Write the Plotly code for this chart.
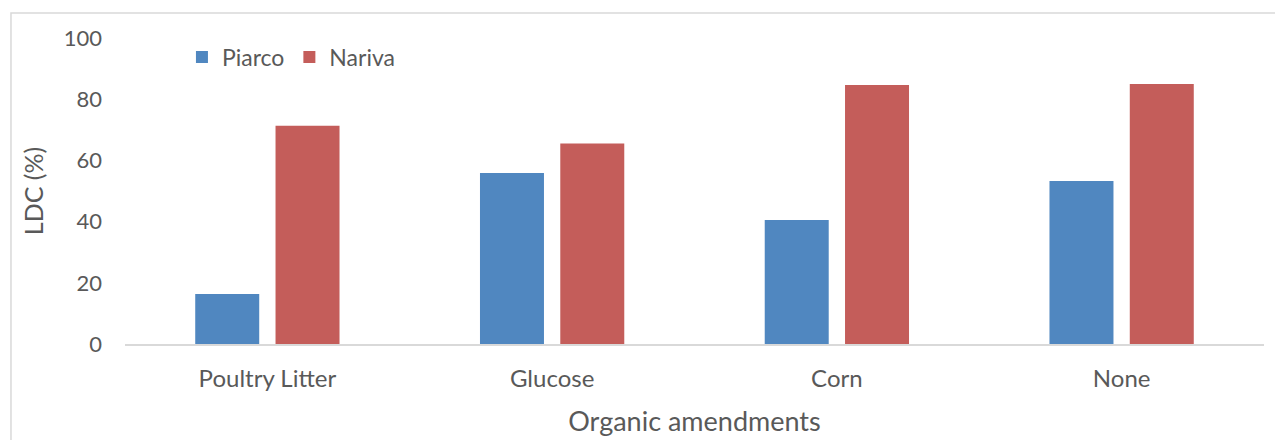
import plotly.graph_objects as go

categories = ["Poultry Litter", "Glucose", "Corn", "None"]
piarco = [16.3, 55.9, 40.5, 53.3]
nariva = [71.3, 65.5, 84.6, 85.0]
y_ticks = [0, 20, 40, 60, 80, 100]

font_family = "Lato, 'Open Sans', sans-serif"
grey = "#595959"

fig = go.Figure()
fig.add_trace(go.Bar(name="Piarco", x=categories, y=piarco, marker=dict(color="#5087C0", line=dict(width=0))))
fig.add_trace(go.Bar(name="Nariva", x=categories, y=nariva, marker=dict(color="#C45D5A", line=dict(width=0))))

fig.update_layout(
    width=1275, height=432,
    margin=dict(l=117, r=19, t=30, b=96),
    paper_bgcolor="white", plot_bgcolor="white",
    barmode="group", bargap=0.436, bargroupgap=0.203,
    font=dict(family=font_family, color=grey, size=20),
    legend=dict(orientation="h", x=0.05, y=0.938, xanchor="left", yanchor="middle",
                font=dict(size=23, color=grey), traceorder="normal",
                bgcolor="rgba(0,0,0,0)"),
    xaxis=dict(showline=True, linecolor="#D9D9D9", linewidth=2, ticks="",
               tickfont=dict(size=24, color=grey), ticklabelstandoff=12, automargin=False,
               title=dict(text="Organic amendments", font=dict(size=27, color=grey), standoff=21),
               showgrid=False),
    yaxis=dict(range=[0, 100], tickvals=y_ticks, showgrid=False, zeroline=False, showline=False,
               tickfont=dict(size=22, color=grey), ticklabelstandoff=22, automargin=False,
               title=dict(text="LDC (%)", font=dict(size=25, color=grey), standoff=12),
               fixedrange=True),
    shapes=[dict(type="rect", xref="paper", yref="paper", x0=-0.1001, x1=1.03, y0=-0.4, y1=1.0817,
                 line=dict(color="#D9D9D9", width=1.5), fillcolor="rgba(0,0,0,0)", layer="below")],
)

fig.write_html("out.html")
